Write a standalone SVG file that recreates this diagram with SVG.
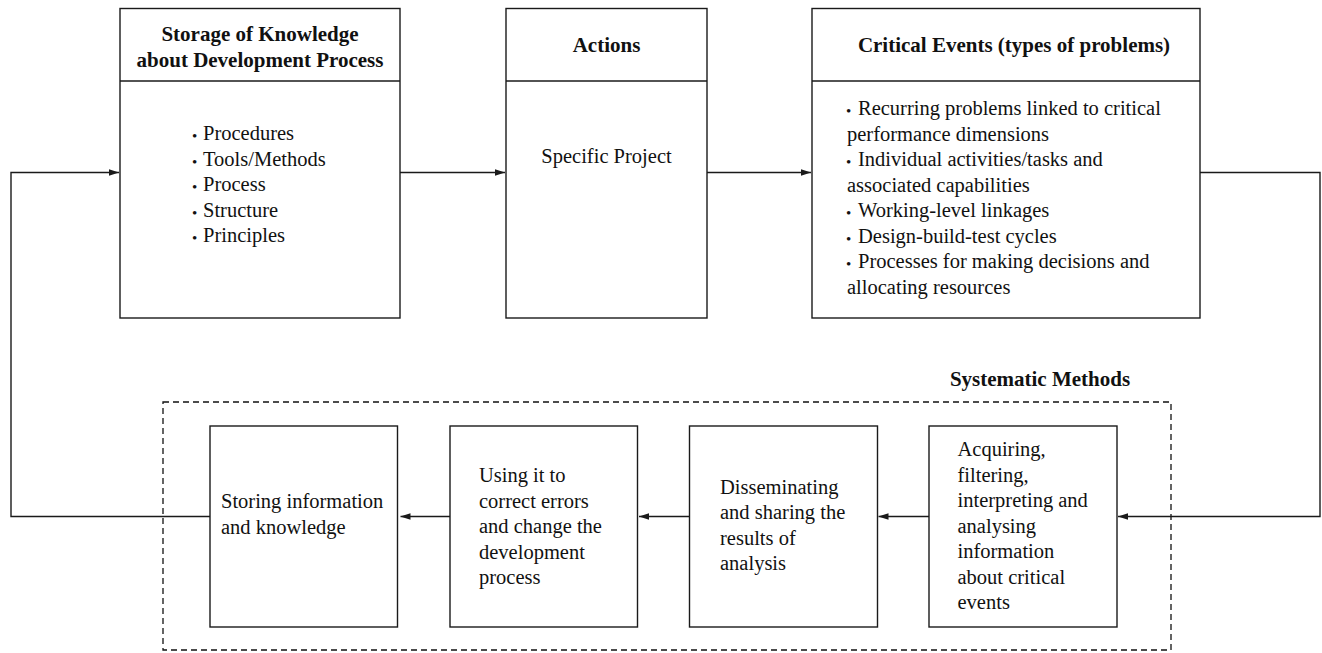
<svg xmlns="http://www.w3.org/2000/svg" width="1322" height="653" viewBox="0 0 1322 653">
<style>
.box{fill:#fff;stroke:#1a1a1a;stroke-width:1.4}
.ln{fill:none;stroke:#1a1a1a;stroke-width:1.4}
text{font-family:'Liberation Serif','Times New Roman',Times,'DejaVu Serif',serif;fill:#111}
.t{font-size:20.5px}
.b{font-size:21px;font-weight:bold}
.bul{font-size:15px}
.dash{fill:none;stroke:#111;stroke-width:1.3;stroke-dasharray:6 4}
</style>
<defs>
<marker id="ah" markerWidth="10" markerHeight="8" refX="10" refY="4" orient="auto" markerUnits="userSpaceOnUse">
<path d="M0,0.8 L10,4 L0,7.2 Z" fill="#1a1a1a"/>
</marker>
</defs>
<rect width="1322" height="653" fill="#fff"/>

<g id="systematic-methods">
<rect class="dash" x="163" y="402" width="1008" height="248"/>
<text class="b" x="1040" y="386" text-anchor="middle">Systematic Methods</text>
</g>

<g id="storage">
<rect class="box" x="120" y="8.5" width="280" height="309.5"/>
<line class="ln" x1="120" y1="81" x2="400" y2="81"/>
<text class="b" x="260" y="41" text-anchor="middle">Storage of Knowledge</text>
<text class="b" x="260" y="67" text-anchor="middle">about Development Process</text>
<text class="bul" x="192" y="141">•</text><text class="t" x="203" y="140">Procedures</text>
<text class="bul" x="192" y="166.5">•</text><text class="t" x="203" y="165.5">Tools/Methods</text>
<text class="bul" x="192" y="192">•</text><text class="t" x="203" y="191">Process</text>
<text class="bul" x="192" y="217.5">•</text><text class="t" x="203" y="216.5">Structure</text>
<text class="bul" x="192" y="243">•</text><text class="t" x="203" y="242">Principles</text>
</g>

<g id="actions">
<rect class="box" x="506" y="8.5" width="201" height="309.5"/>
<line class="ln" x1="506" y1="81" x2="707" y2="81"/>
<text class="b" x="606.5" y="52" text-anchor="middle">Actions</text>
<text class="t" x="606.5" y="163" text-anchor="middle">Specific Project</text>
</g>

<g id="critical-events">
<rect class="box" x="812" y="8.5" width="388" height="309.5"/>
<line class="ln" x1="812" y1="81" x2="1200" y2="81"/>
<text class="b" x="1014" y="52" text-anchor="middle">Critical Events (types of problems)</text>
<text class="bul" x="846" y="116">•</text><text class="t" x="858" y="115">Recurring problems linked to critical</text>
<text class="t" x="847" y="140.5">performance dimensions</text>
<text class="bul" x="846" y="167">•</text><text class="t" x="858" y="166">Individual activities/tasks and</text>
<text class="t" x="847" y="191.5">associated capabilities</text>
<text class="bul" x="846" y="218">•</text><text class="t" x="858" y="217">Working-level linkages</text>
<text class="bul" x="846" y="243.5">•</text><text class="t" x="858" y="242.5">Design-build-test cycles</text>
<text class="bul" x="846" y="269">•</text><text class="t" x="858" y="268">Processes for making decisions and</text>
<text class="t" x="847" y="293.5">allocating resources</text>
</g>

<g id="storing">
<rect class="box" x="210" y="426" width="187.5" height="201"/>
<text class="t" x="221" y="508">Storing information</text>
<text class="t" x="221" y="533.5">and knowledge</text>
</g>

<g id="using">
<rect class="box" x="450" y="426" width="187.5" height="201"/>
<text class="t" x="479" y="482">Using it to</text>
<text class="t" x="479" y="507.5">correct errors</text>
<text class="t" x="479" y="533">and change the</text>
<text class="t" x="479" y="558.5">development</text>
<text class="t" x="479" y="584">process</text>
</g>

<g id="disseminating">
<rect class="box" x="689.5" y="426" width="188" height="201"/>
<text class="t" x="720" y="493.5">Disseminating</text>
<text class="t" x="720" y="519">and sharing the</text>
<text class="t" x="720" y="544.5">results of</text>
<text class="t" x="720" y="570">analysis</text>
</g>

<g id="acquiring">
<rect class="box" x="929" y="426" width="188" height="201"/>
<text class="t" x="957.5" y="456">Acquiring,</text>
<text class="t" x="957.5" y="481.5">filtering,</text>
<text class="t" x="957.5" y="507">interpreting and</text>
<text class="t" x="957.5" y="532.5">analysing</text>
<text class="t" x="957.5" y="558">information</text>
<text class="t" x="957.5" y="583.5">about critical</text>
<text class="t" x="957.5" y="609">events</text>
</g>

<g id="connectors">
<line class="ln" x1="400" y1="172.5" x2="505" y2="172.5" marker-end="url(#ah)"/>
<line class="ln" x1="707" y1="172.5" x2="811" y2="172.5" marker-end="url(#ah)"/>
<polyline class="ln" points="1200,172.5 1320,172.5 1320,516.5 1118,516.5" marker-end="url(#ah)"/>
<line class="ln" x1="929" y1="516.5" x2="878.5" y2="516.5" marker-end="url(#ah)"/>
<line class="ln" x1="689.5" y1="516.5" x2="639" y2="516.5" marker-end="url(#ah)"/>
<line class="ln" x1="450" y1="516.5" x2="400.5" y2="516.5" marker-end="url(#ah)"/>
<polyline class="ln" points="210,516.5 11,516.5 11,172.5 119,172.5" marker-end="url(#ah)"/>
</g>
</svg>
